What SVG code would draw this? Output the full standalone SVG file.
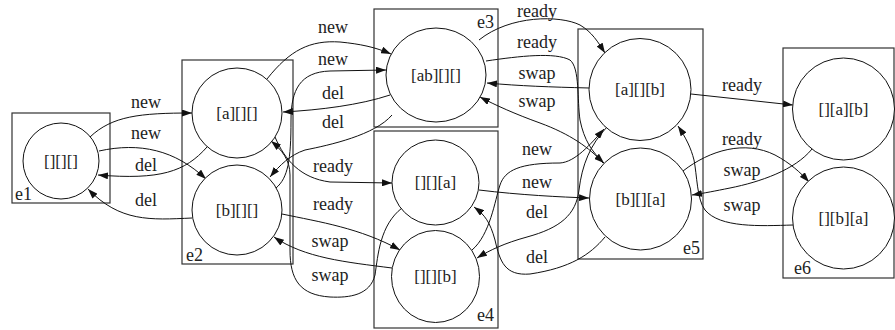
<svg xmlns="http://www.w3.org/2000/svg" width="895" height="330" viewBox="0 0 895 330">
<style>
.c{fill:none;stroke:#333;stroke-width:1.2}
.n{fill:#fff;stroke:#111;stroke-width:1}
.e{fill:none;stroke:#111;stroke-width:1;marker-end:url(#ah)}
text{font-family:"Liberation Serif","Times New Roman",serif;fill:#222}
.nt{font-size:17px;text-anchor:middle}
.lt{font-size:18px;text-anchor:middle}
.ct{font-size:18px}
</style>
<defs>
<marker id="ah" viewBox="0 0 10 7" refX="10" refY="3.5" markerWidth="10" markerHeight="7" markerUnits="userSpaceOnUse" orient="auto">
<path d="M0,0 L10,3.5 L0,7 z" fill="#111"/>
</marker>
</defs>
<rect width="895" height="330" fill="#fff"/>
<g id="clusters">
<g id="e1"><rect class="c" x="12" y="113" width="98" height="90"/><text class="ct" x="15" y="200">e1</text></g>
<g id="e2"><rect class="c" x="182" y="60" width="111" height="204"/><text class="ct" x="186" y="261">e2</text></g>
<g id="e3"><rect class="c" x="374" y="9" width="124" height="118"/><text class="ct" x="494" y="28" text-anchor="end">e3</text></g>
<g id="e4"><rect class="c" x="374" y="131" width="124" height="197"/><text class="ct" x="494" y="321" text-anchor="end">e4</text></g>
<g id="e5"><rect class="c" x="578" y="29" width="125" height="230"/><text class="ct" x="700" y="254" text-anchor="end">e5</text></g>
<g id="e6"><rect class="c" x="783" y="48" width="111" height="230"/><text class="ct" x="794" y="274">e6</text></g>
</g>
<g id="edges">
<path class="e" d="M90,137 C112,116 140,113 192,113"/><text class="lt" x="146" y="108">new</text>
<path class="e" d="M99,151 C140,142 175,150 206,179"/><text class="lt" x="146" y="139">new</text>
<path class="e" d="M207,147 C185,172 160,180 98,175"/><text class="lt" x="146" y="171">del</text>
<path class="e" d="M192,218 C150,220 120,222 88,189"/><text class="lt" x="146" y="206">del</text>
<path class="e" d="M267,79 C290,50 310,40 340,42 C360,44 375,47 391,54"/><text class="lt" x="333" y="33">new</text>
<path class="e" d="M276,188 C288,178 291,160 291,120 C291,90 300,72 330,71 L386,70"/><text class="lt" x="333" y="65">new</text>
<path class="e" d="M390,95 C360,105 320,110 283,112"/><text class="lt" x="333" y="99">del</text>
<path class="e" d="M392,115 C375,135 330,145 305,150 C290,155 280,165 270,177"/><text class="lt" x="333" y="128">del</text>
<path class="e" d="M275,137 C285,160 300,178 330,182 L392,183"/><text class="lt" x="333" y="172">ready</text>
<path class="e" d="M282,214 C320,222 360,228 400,250"/><text class="lt" x="333" y="210">ready</text>
<path class="e" d="M392,268 C345,262 305,258 274,237"/><text class="lt" x="330" y="247">swap</text>
<path class="e" d="M402,208 C380,225 378,255 375,275 C370,295 350,298 330,297 C300,295 290,280 290,250 L290,175 C290,160 282,150 271,141"/><text class="lt" x="330" y="281">swap</text>
<path class="e" d="M479,40 C510,15 560,15 580,25 C592,32 598,42 605,53"/><text class="lt" x="537" y="17">ready</text>
<path class="e" d="M486,61 C520,56 555,52 570,60 C580,68 577,100 580,120 C584,140 592,152 604,163"/><text class="lt" x="537" y="48">ready</text>
<path class="e" d="M589,88 C550,87 520,86 487,83"/><text class="lt" x="537" y="79">swap</text>
<path class="e" d="M603,163 C590,148 570,134 540,123 C515,114 495,105 480,97"/><text class="lt" x="537" y="107">swap</text>
<path class="e" d="M472,250 C490,235 495,200 500,185 C505,170 520,163 560,163 C575,162 590,145 604,129"/><text class="lt" x="537" y="155">new</text>
<path class="e" d="M479,190 C520,195 560,197 589,198"/><text class="lt" x="537" y="188">new</text>
<path class="e" d="M607,127 C590,145 582,165 579,190 C576,215 560,228 527,237 C505,243 490,250 477,258"/><text class="lt" x="537" y="218">del</text>
<path class="e" d="M605,237 C590,255 570,268 530,274 C505,276 500,262 495,240 C490,222 485,215 474,207"/><text class="lt" x="537" y="263">del</text>
<path class="e" d="M691,94 L793,105"/><text class="lt" x="742" y="91">ready</text>
<path class="e" d="M683,171 C710,150 745,140 775,155 C790,163 800,172 809,182"/><text class="lt" x="742" y="145">ready</text>
<path class="e" d="M812,149 C795,170 760,182 730,188 C715,191 705,193 692,195"/><text class="lt" x="742" y="176">swap</text>
<path class="e" d="M793,225 C760,226 720,228 705,210 C697,200 697,175 694,160 C691,148 686,138 678,126"/><text class="lt" x="742" y="211">swap</text>
</g>
<g id="n1"><circle class="n" cx="61" cy="161" r="38"/><text class="nt" x="61" y="167">[][][]</text></g>
<g id="n2"><circle class="n" cx="237" cy="113" r="45"/><text class="nt" x="237" y="119">[a][][]</text></g>
<g id="n3"><circle class="n" cx="237" cy="210" r="45"/><text class="nt" x="237" y="216">[b][][]</text></g>
<g id="n4"><ellipse class="n" cx="436" cy="75" rx="50" ry="47"/><text class="nt" x="436" y="81">[ab][][]</text></g>
<g id="n5"><ellipse class="n" cx="435.5" cy="182.5" rx="43.5" ry="42.5"/><text class="nt" x="435.5" y="188">[][][a]</text></g>
<g id="n6"><ellipse class="n" cx="435.5" cy="276.5" rx="44" ry="46"/><text class="nt" x="435.5" y="282">[][][b]</text></g>
<g id="n7"><circle class="n" cx="640" cy="89.5" r="51"/><text class="nt" x="640" y="95">[a][][b]</text></g>
<g id="n8"><circle class="n" cx="640.5" cy="199" r="51"/><text class="nt" x="640.5" y="205">[b][][a]</text></g>
<g id="n9"><circle class="n" cx="843.5" cy="109" r="51"/><text class="nt" x="843.5" y="115">[][a][b]</text></g>
<g id="n10"><circle class="n" cx="843.5" cy="218" r="51"/><text class="nt" x="843.5" y="224">[][b][a]</text></g>
</svg>
